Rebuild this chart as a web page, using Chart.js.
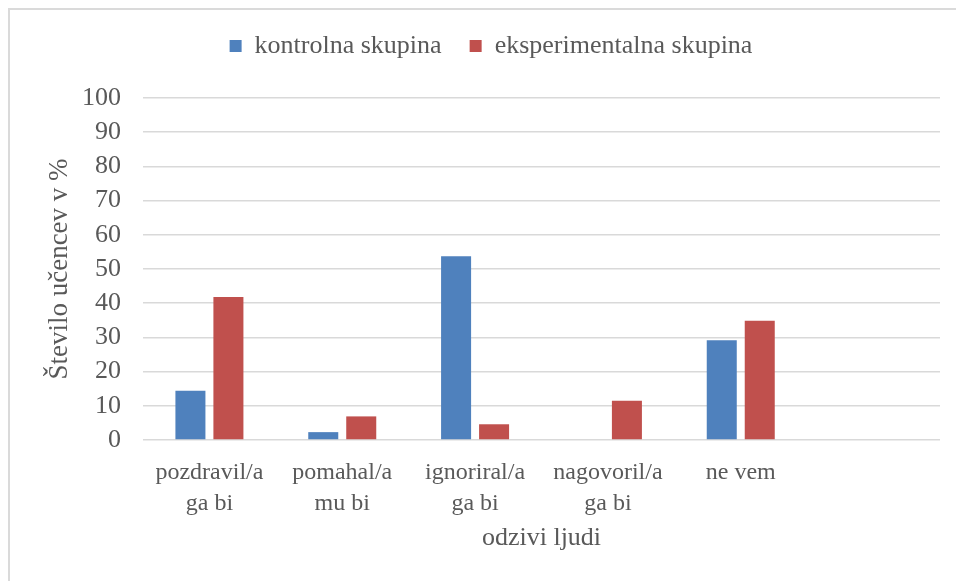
<!DOCTYPE html>
<html>
<head>
<meta charset="utf-8">
<script src="https://cdn.jsdelivr.net/npm/chart.js@4.4.0/dist/chart.umd.min.js"></script>
<style>
  html, body { margin: 0; padding: 0; background: #fff; overflow: hidden; }
  #wrap { position: relative; width: 956px; height: 581px; }
  #frame { position: absolute; left: 8px; top: 8px; width: 1000px; height: 1000px; border: 2px solid #dadada; box-sizing: border-box; }
  #chart { position: absolute; left: 0; top: 0; }
</style>
</head>
<body>
<div id="wrap">
  <div id="frame"></div>
  <canvas id="chart" width="956" height="581"></canvas>
</div>
<script>
const categories = [
  ["pozdravil/a", "ga bi"],
  ["pomahal/a", "mu bi"],
  ["ignoriral/a", "ga bi"],
  ["nagovoril/a", "ga bi"],
  "ne vem",
  ""
];
const kontrolna = [14.4, 2.3, 53.7, 0, 29.2, null];
const eksperimentalna = [41.8, 6.9, 4.6, 11.5, 34.9, null];
const yTicks = { min: 0, max: 100, step: 10 };

const serif = "'Liberation Serif', 'DejaVu Serif', serif";
const grey = "#595959";

// keep chart area top at 98 and nudge the legend where excel had it
const legendFix = {
  id: "legendFix",
  beforeInit(chart) {
    const fit = chart.legend.fit;
    chart.legend.fit = function () {
      fit.bind(chart.legend)();
      this.height = 98;
    };
  },
  afterLayout(chart) {
    const lg = chart.legend;
    lg.top = 5;
    lg.left += 2;
    lg.right += 2;
  }
};

new Chart(document.getElementById("chart"), {
  type: "bar",
  data: {
    labels: categories,
    datasets: [
      {
        label: "kontrolna skupina",
        data: kontrolna,
        backgroundColor: "#4f81bd",
        categoryPercentage: 0.572,
        barPercentage: 0.79
      },
      {
        label: "eksperimentalna skupina",
        data: eksperimentalna,
        backgroundColor: "#c0504d",
        categoryPercentage: 0.572,
        barPercentage: 0.79
      }
    ]
  },
  options: {
    responsive: false,
    animation: false,
    layout: { padding: { left: 38, right: 16, top: 0, bottom: 0 } },
    plugins: {
      tooltip: { enabled: false },
      legend: {
        position: "top",
        labels: {
          boxWidth: 12,
          boxHeight: 12,
          padding: 28,
          color: grey,
          font: { family: serif, size: 26 }
        }
      }
    },
    scales: {
      x: {
        grid: { display: false },
        border: { display: false },
        ticks: {
          color: grey,
          padding: 9,
          maxRotation: 0,
          autoSkip: false,
          font: { family: serif, size: 24, lineHeight: 1.3 }
        },
        title: {
          display: true,
          text: "odzivi ljudi",
          color: grey,
          padding: { top: 0, bottom: 27 },
          font: { family: serif, size: 26, lineHeight: 1.2 }
        },
        afterFit(s) { s.height = 141; }
      },
      y: {
        min: yTicks.min,
        max: yTicks.max,
        grid: { color: "#d9d9d9", lineWidth: 1.5, drawTicks: false },
        border: { display: false },
        ticks: {
          stepSize: yTicks.step,
          color: grey,
          padding: 22,
          font: { family: serif, size: 26 }
        },
        title: {
          display: true,
          text: "Število učencev v %",
          color: grey,
          padding: { top: 6, bottom: 0 },
          font: { family: serif, size: 27, lineHeight: 1.2 }
        },
        afterFit(s) { s.width = 105; }
      }
    }
  },
  plugins: [legendFix]
});
</script>
</body>
</html>
